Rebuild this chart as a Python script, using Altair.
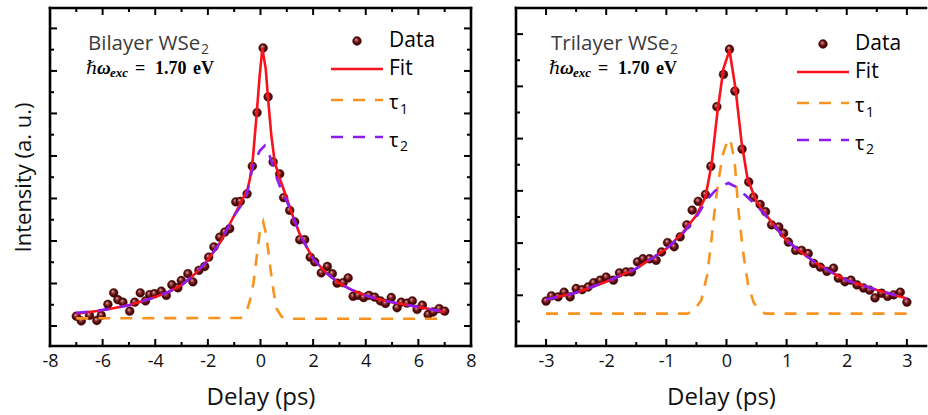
import altair as alt
import pandas as pd

# ---------------- Bilayer WSe2 (left panel) ----------------
bi_delay = [-7.00, -6.81, -6.50, -6.22, -6.05, -5.80, -5.58, -5.42, -5.23, -4.97, -4.78, -4.57, -4.37,
            -4.21, -4.03, -3.77, -3.58, -3.37, -3.14, -3.01, -2.76, -2.57, -2.34, -2.12, -1.97, -1.77,
            -1.55, -1.36, -1.17, -0.94, -0.77, -0.51, -0.31, -0.13, 0.10, 0.29, 0.48, 0.73, 0.88, 1.11,
            1.30, 1.49, 1.68, 1.89, 2.06, 2.31, 2.54, 2.73, 2.91, 3.14, 3.33, 3.52, 3.71, 3.92, 4.12,
            4.34, 4.56, 4.75, 4.97, 5.19, 5.35, 5.57, 5.77, 5.95, 6.15, 6.37, 6.56, 6.79, 7.00]
bi_intensity = [0.23, 0.12, 0.25, 0.13, 0.25, 0.51, 0.78, 0.62, 0.56, 0.35, 0.56, 0.78, 0.59, 0.74,
                0.76, 0.82, 0.72, 0.97, 0.90, 1.07, 1.23, 1.04, 1.31, 1.40, 1.62, 1.86, 2.09, 2.21,
                2.29, 2.92, 2.93, 3.11, 3.76, 5.02, 6.54, 5.39, 3.86, 3.58, 3.02, 2.72, 2.45, 2.03,
                2.03, 1.62, 1.51, 1.25, 1.40, 1.23, 1.01, 1.02, 1.13, 0.70, 0.72, 0.67, 0.72, 0.68,
                0.59, 0.53, 0.67, 0.43, 0.56, 0.54, 0.59, 0.39, 0.49, 0.27, 0.33, 0.41, 0.35]

bi_fit_x = [-7, -6.5, -6, -5.5, -5, -4.5, -4, -3.5, -3, -2.5, -2, -1.5, -1, -0.75, -0.5, -0.4, -0.29,
            -0.16, -0.03, 0.07, 0.2, 0.28, 0.41, 0.54, 0.73, 0.98, 1.25, 1.5, 2, 2.5, 3, 3.5, 4, 4.5,
            5, 5.5, 6, 6.5, 7]
bi_fit_y = [0.29, 0.33, 0.37, 0.43, 0.49, 0.58, 0.68, 0.80, 0.96, 1.22, 1.55, 2.00, 2.60, 2.90, 3.20,
            3.47, 3.94, 4.88, 5.90, 6.53, 6.05, 5.40, 4.49, 3.86, 3.47, 3.04, 2.55, 2.15, 1.58, 1.25,
            1.00, 0.84, 0.72, 0.63, 0.56, 0.50, 0.45, 0.39, 0.33]

bi_t1_x = [-7, -0.75, -0.55, -0.4, -0.27, -0.15, -0.03, 0.1, 0.2, 0.3, 0.4, 0.5, 0.62, 0.8, 1.0, 7]
bi_t1_y = [0.18, 0.19, 0.30, 0.60, 1.00, 1.60, 2.20, 2.45, 2.20, 1.75, 1.25, 0.80, 0.40, 0.22, 0.17, 0.17]

bi_t2_x = [-7, -6.5, -6, -5.5, -5, -4.5, -4, -3.5, -3, -2.5, -2, -1.5, -1, -0.75, -0.54, -0.29, -0.03,
           0.16, 0.35, 0.54, 0.79, 1.04, 1.25, 1.5, 2, 2.5, 3, 3.5, 4, 4.5, 5, 5.5, 6, 6.5, 7]
bi_t2_y = [0.31, 0.34, 0.38, 0.43, 0.49, 0.58, 0.68, 0.80, 0.96, 1.22, 1.55, 2.00, 2.60, 2.82, 3.05,
           3.75, 4.12, 4.24, 4.00, 3.62, 3.19, 2.88, 2.55, 2.15, 1.58, 1.25, 1.00, 0.84, 0.72, 0.63,
           0.56, 0.50, 0.45, 0.39, 0.33]

# ---------------- Trilayer WSe2 (right panel) ----------------
tri_delay = [-3.00, -2.91, -2.80, -2.70, -2.60, -2.50, -2.40, -2.30, -2.21, -2.10, -2.00, -1.88, -1.78,
             -1.67, -1.58, -1.48, -1.39, -1.28, -1.17, -1.08, -0.98, -0.87, -0.77, -0.66, -0.57, -0.47,
             -0.35, -0.26, -0.16, -0.05, 0.05, 0.14, 0.26, 0.37, 0.45, 0.56, 0.65, 0.75, 0.87, 0.95,
             1.03, 1.15, 1.25, 1.36, 1.45, 1.56, 1.67, 1.78, 1.86, 1.97, 2.07, 2.17, 2.28, 2.38, 2.47,
             2.58, 2.68, 2.78, 2.89, 3.00]
tri_intensity = [-0.11, -0.01, -0.03, 0.06, -0.03, 0.13, 0.11, 0.16, 0.24, 0.29, 0.35, 0.29, 0.43,
                 0.45, 0.45, 0.64, 0.70, 0.70, 0.67, 0.83, 1.01, 0.93, 1.12, 1.35, 1.63, 1.80, 1.93,
                 2.47, 3.61, 4.23, 4.71, 3.91, 2.80, 2.17, 1.88, 1.74, 1.60, 1.35, 1.31, 1.19, 1.02,
                 0.86, 0.86, 0.80, 0.61, 0.54, 0.46, 0.52, 0.33, 0.26, 0.29, 0.20, 0.14, 0.10, -0.05,
                 0.04, -0.02, 0.01, 0.06, -0.13]

tri_fit_x = [-3, -2.5, -2, -1.5, -1, -0.75, -0.5, -0.35, -0.25, -0.15, -0.05, 0.05, 0.15, 0.25, 0.35,
             0.5, 0.75, 1, 1.25, 1.5, 1.75, 2, 2.5, 3]
tri_fit_y = [-0.08, 0.05, 0.26, 0.51, 0.89, 1.17, 1.53, 1.88, 2.49, 3.51, 4.34, 4.69, 3.96, 2.94, 2.23,
             1.79, 1.40, 1.05, 0.82, 0.61, 0.44, 0.29, 0.10, -0.06]

tri_t1_x = [-3, -0.65, -0.55, -0.42, -0.32, -0.26, -0.2, -0.14, -0.06, 0.03, 0.08, 0.14, 0.2, 0.28,
            0.36, 0.45, 0.55, 0.65, 3]
tri_t1_y = [-0.35, -0.35, -0.30, -0.10, 0.40, 0.95, 1.60, 2.15, 2.70, 3.00, 2.90, 2.50, 1.60, 0.80,
            0.20, -0.13, -0.30, -0.35, -0.35]

tri_t2_x = [-3, -2.5, -2, -1.5, -1, -0.75, -0.5, -0.33, -0.2, -0.1, 0.03, 0.15, 0.3, 0.5, 0.75, 1,
            1.25, 1.5, 1.75, 2, 2.5, 3]
tri_t2_y = [-0.08, 0.05, 0.26, 0.51, 0.89, 1.15, 1.50, 1.82, 1.99, 2.08, 2.15, 2.08, 1.93, 1.72, 1.40,
            1.05, 0.82, 0.61, 0.44, 0.29, 0.10, -0.06]

# ticks / labels
bi_x_labels = [-8, -6, -4, -2, 0, 2, 4, 6, 8]
bi_x_major = [-6, -4, -2, 0, 2, 4, 6]
bi_x_minor = [-7, -5, -3, -1, 1, 3, 5, 7]
bi_y_major = [0, 1, 2, 3, 4, 5, 6, 7]
bi_y_minor = [0.5, 1.5, 2.5, 3.5, 4.5, 5.5, 6.5]

tri_x_labels = [-3, -2, -1, 0, 1, 2, 3]
tri_x_major = [-3, -2, -1, 0, 1, 2, 3]
tri_x_minor = [-2.5, -1.5, -0.5, 0.5, 1.5, 2.5]
tri_y_major = [0, 1, 2, 3, 4, 5]
tri_y_minor = [-0.5, 0.5, 1.5, 2.5, 3.5, 4.5]

FONT = "Open Sans"
SERIF = "Liberation Serif"
H = 338
RED = "#f8121c"
ORANGE = "#f7931e"
PURPLE = "#8a1cf2"
DASH = [12, 10]
GRAD = {"gradient": "radial", "x1": 0.38, "y1": 0.32, "r1": 0, "x2": 0.5, "y2": 0.5, "r2": 0.5,
        "stops": [{"offset": 0, "color": "#f4e2e2"}, {"offset": 0.28, "color": "#a54848"},
                  {"offset": 0.62, "color": "#5e0c0c"}, {"offset": 1, "color": "#3a0000"}]}
ONE = pd.DataFrame({"k": [0]})


def txt(s, x, y, size, color="black", font=FONT, weight="normal", style="normal",
        align="left", baseline="middle"):
    return alt.Chart(ONE).mark_text(text=s, font=font, fontSize=size, fontWeight=weight,
                                    fontStyle=style, color=color, align=align,
                                    baseline=baseline).encode(x=alt.value(x), y=alt.value(y))


def panel(px, py, fx, fy, t1x, t1y, t2x, t2y, xdom, ydom, W, xlab, xmaj, xmin, ymaj, ymin,
          ytitle, right_frame, name, sub_x, ann_dx, leg_dy):
    xs = alt.Scale(domain=xdom, nice=False, zero=False)
    ys = alt.Scale(domain=ydom, nice=False, zero=False)
    xaxis = alt.Axis(values=xlab, title="Delay (ps)", ticks=False, domain=False, grid=False,
                     labelFontSize=18, labelPadding=6, labelFlush=False, labelColor="#111",
                     labelFont=FONT, titleFont=FONT, titleFontSize=24, titleFontWeight="normal",
                     titleColor="#111", titlePadding=15,
                     labelExpr="datum.value < 0 ? '-' + abs(datum.value) : '' + datum.value")
    if ytitle:
        yaxis = alt.Axis(title=ytitle, labels=False, ticks=False, domain=False, grid=False,
                         titleFont=FONT, titleFontSize=22, titleFontWeight="normal",
                         titleColor="#111", titlePadding=15)
    else:
        yaxis = None

    def X():
        return alt.X("x:Q", scale=xs, axis=xaxis)

    def Y():
        return alt.Y("y:Q", scale=ys, axis=yaxis)

    pts = alt.Chart(pd.DataFrame({"x": px, "y": py})).mark_circle(
        size=78, fill=GRAD, opacity=1, stroke="#3a0000", strokeWidth=0.4).encode(x=X(), y=Y())

    def line(xv, yv, color, dash=None):
        kw = dict(color=color, strokeWidth=2.6)
        if dash:
            kw["strokeDash"] = dash
        return alt.Chart(pd.DataFrame({"x": xv, "y": yv})).mark_line(**kw).encode(x=X(), y=Y())

    fit = line(fx, fy, RED)
    t1 = line(t1x, t1y, ORANGE, DASH)
    t2 = line(t2x, t2y, PURPLE, DASH)

    layers = [pts, fit, t1, t2]

    # ticks (inward)
    def xt(vals, y0, y1):
        return alt.Chart(pd.DataFrame({"x": vals})).mark_rule(color="black", strokeWidth=2).encode(
            x=X(), y=alt.value(y0), y2=alt.value(y1))

    def yt(vals, x0, x1):
        return alt.Chart(pd.DataFrame({"y": vals})).mark_rule(color="black", strokeWidth=2).encode(
            y=Y(), x=alt.value(x0), x2=alt.value(x1))

    layers += [xt(xmaj, H, H - 7), xt(xmin, H, H - 4), xt(xmaj, 0, 7), xt(xmin, 0, 4),
               yt(ymaj, 0, 7), yt(ymin, 0, 4)]
    if right_frame:
        layers += [yt(ymaj, W, W - 7), yt(ymin, W, W - 4)]

    # frame
    def fr(**enc):
        return alt.Chart(ONE).mark_rule(color="black", strokeWidth=2.6, strokeCap="square").encode(**enc)

    layers += [fr(x=alt.value(0), y=alt.value(0), y2=alt.value(H)),
               fr(y=alt.value(0), x=alt.value(0), x2=alt.value(W)),
               fr(y=alt.value(H), x=alt.value(0), x2=alt.value(W))]
    if right_frame:
        layers += [fr(x=alt.value(W), y=alt.value(0), y2=alt.value(H))]

    # annotation
    a = ann_dx
    layers += [txt(name, 38 + a, 41.5, 20.5, color="#3c3c3c", baseline="alphabetic"),
               txt("2", sub_x, 46, 14, color="#3c3c3c", baseline="alphabetic"),
               txt("\u210f", 36 + a, 66, 18, font="DejaVu Serif", style="italic",
                   baseline="alphabetic"),
               txt("\u03c9", 47 + a, 66, 19, font=SERIF, weight="bold", style="italic",
                   baseline="alphabetic"),
               txt("exc", 60 + a, 69, 13, font=SERIF, weight="bold", style="italic",
                   baseline="alphabetic"),
               txt("=", 85 + a, 66, 18, font=SERIF, weight="bold", baseline="alphabetic"),
               txt("1.70", 105 + a, 66, 18, font=SERIF, weight="bold", baseline="alphabetic"),
               txt("eV", 143 + a, 66, 18, font=SERIF, weight="bold", baseline="alphabetic")]

    # legend
    lx0, lx1, tx = 281, 333, 339
    layers += [alt.Chart(ONE).mark_circle(size=78, fill=GRAD, opacity=1, stroke="#3a0000",
                                          strokeWidth=0.4).encode(x=alt.value(307),
                                                                  y=alt.value(33 + leg_dy)),
               txt("Data", tx, 33 + leg_dy, 21),
               alt.Chart(ONE).mark_rule(color=RED, strokeWidth=2.6).encode(
                   x=alt.value(lx0), x2=alt.value(lx1), y=alt.value(61 + leg_dy)),
               txt("Fit", tx, 61 + leg_dy, 21),
               alt.Chart(ONE).mark_rule(color=ORANGE, strokeWidth=2.6, strokeDash=DASH).encode(
                   x=alt.value(lx0), x2=alt.value(lx1), y=alt.value(92 + leg_dy)),
               txt("\u03c4", tx, 101 + leg_dy, 20, baseline="alphabetic"),
               txt("1", tx + 11, 106 + leg_dy, 14, baseline="alphabetic"),
               alt.Chart(ONE).mark_rule(color=PURPLE, strokeWidth=2.6, strokeDash=DASH).encode(
                   x=alt.value(lx0), x2=alt.value(lx1), y=alt.value(129 + leg_dy)),
               txt("\u03c4", tx, 139 + leg_dy, 20, baseline="alphabetic"),
               txt("2", tx + 11, 143 + leg_dy, 14, baseline="alphabetic")]

    return alt.layer(*layers).properties(width=W, height=H)


left = panel(bi_delay, bi_intensity, bi_fit_x, bi_fit_y, bi_t1_x, bi_t1_y, bi_t2_x, bi_t2_y,
             [-8, 8], [-0.47, 7.48], 421, bi_x_labels, bi_x_major, bi_x_minor, bi_y_major,
             bi_y_minor, "Intensity (a. u.)", True, "Bilayer WSe", 151, 0, 0)
right = panel(tri_delay, tri_intensity, tri_fit_x, tri_fit_y, tri_t1_x, tri_t1_y, tri_t2_x, tri_t2_y,
              [-3.5, 3.318], [-0.97, 5.5], 410, tri_x_labels, tri_x_major, tri_x_minor, tri_y_major,
              tri_y_minor, None, False, "Trilayer WSe", 154, -3, 3)

chart = alt.hconcat(left, right, spacing=45, bounds="flush").properties(
    padding={"left": 12, "top": 6, "right": 0, "bottom": 6}, background="white"
).configure_view(stroke=None)

chart.save("out.html", embed_options={"renderer": "svg", "actions": False})
